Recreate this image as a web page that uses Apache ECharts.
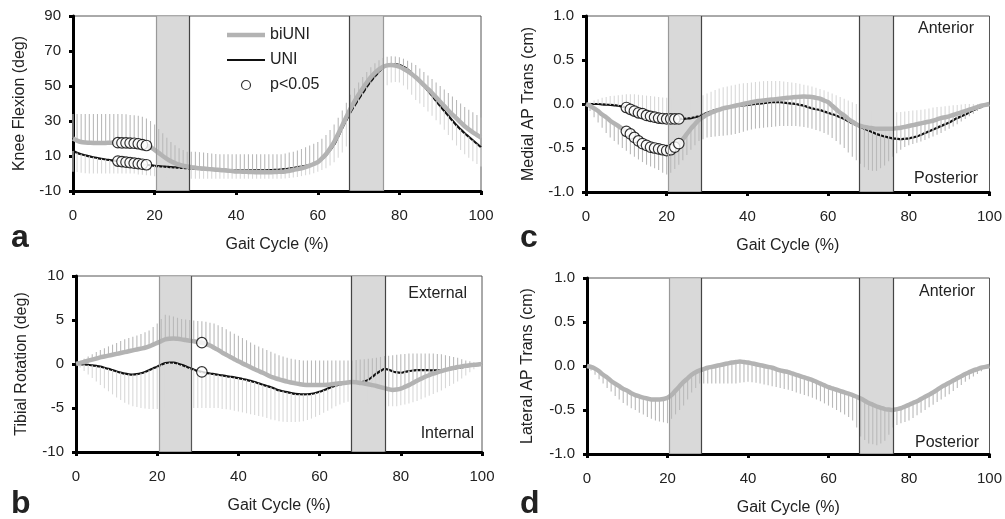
<!DOCTYPE html>
<html><head><meta charset="utf-8">
<script src="https://cdn.jsdelivr.net/npm/echarts@6/dist/echarts.min.js"></script>
<style>html,body{margin:0;padding:0;background:#fff}#c{width:1005px;height:519px}</style>
</head><body><div id="c"></div>
<script>
// Gait cycle sample points (%)
const gait = [0,1,2,3,4,5,6,7,8,9,10,11,12,13,14,15,16,17,18,19,20,21,22,23,24,25,26,27,28,29,30,31,32,33,34,35,36,37,38,39,40,41,42,43,44,45,46,47,48,49,50,51,52,53,54,55,56,57,58,59,60,61,62,63,64,65,66,67,68,69,70,71,72,73,74,75,76,77,78,79,80,81,82,83,84,85,86,87,88,89,90,91,92,93,94,95,96,97,98,99,100];

// a: Knee flexion (deg)
const kneeBi = [20,18.8,18,17.7,17.6,17.5,17.5,17.5,17.5,17.6, 17.6,17.6,17.5,17.5,17.4,17.3,17,16.5,16,15, 13.5,11.8,10,8.4,7,5.9,5,4.4,4,3.6, 3.3,3,2.8,2.6,2.4,2.2,2,1.8,1.6,1.4, 1.2,1.1,1,0.9,0.8,0.75,0.7,0.7,0.7,0.8, 0.9,1,1.2,1.6,2,2.5,3,3.7,4.5,5.4, 6.5,8.6,11,14.3,18,22.6,27.5,32.3,37,41.2, 45,48.6,52,55,57.5,59.5,61,61.8,62,61.7, 61,59.9,58.5,56.9,55,52.8,50.5,48.3,46,43.5, 41,38.5,36,33.7,31.5,29.2,27,25.2,23.5,22, 20.5];
const kneeUni = [12.8,11.8,11,10.4,9.8,9.3,8.8,8.4,8,7.7, 7.4,7.1,6.8,6.5,6.2,5.9,5.6,5.3,5,4.7, 4.4,4.2,4,3.8,3.6,3.45,3.3,3.15,3,2.85, 2.7,2.6,2.5,2.4,2.3,2.2,2.1,2.05,2,1.95, 1.9,1.85,1.8,1.8,1.8,1.8,1.8,1.85,1.9,2, 2.1,2.3,2.5,2.8,3.1,3.5,4,4.4,4.8,5.6, 6.5,8.3,10.5,13.3,16.5,21,26,30.5,35,38.8, 42.5,46,49.5,52.6,55.5,58.2,60.5,61.8,62.5,62.5, 62,61,59.5,57.4,55,52.6,50,47.3,44.5,41.5, 38.5,35.7,33,30.2,27.5,25.2,23,21,19,17, 15];
const kneeBiSD = [34,34,34,34,34,34,34,34,34,34, 34,34,34,33.8,33.5,33.3,33,32.4,31.5,30, 28,25.5,23,20.5,18,16.1,14.5,13.4,12.5,12.5, 12.5,12.2,12,11.7,11.5,11.2,11,11,11,11, 11,11,11,11,11,11,11,11,11,11, 11,11,11.5,12,12.5,13.2,14,15,16,17, 18,19.8,22,24.8,28,31.8,36,40.5,45,48.7, 52,55.2,58,60.7,63,64.7,66,66.7,67,66.9, 66.5,65.6,64.5,63.3,62,60,58,56,54,52, 50,48,46,44,42,40,38,36.4,35,33.5, 32];
const kneeUniSD = [1,0.8,0.5,0.2,0,0,0,0,0,0, 0,0,0,0,0,0,-0.5,-0.7,-1,-1.2, -1.5,-1.8,-2,-2.3,-2.5,-2.7,-2.8,-2.9,-3,-3, -3,-3,-3,-3,-3,-3,-3,-3,-3,-3, -3,-3,-3,-3,-3,-3,-3,-3,-3,-3, -3,-3,-2.8,-2.6,-2.3,-2,-1.5,-1,-0.5,0.2, 1,2,3,4.6,6.5,9,12,15.5,19,22.5, 26,29.5,33,36.5,40,44,48,50.5,52,52.3, 52,50.3,48,45,42,40,38,35.5,33,30.5, 28,25,22,19,16,13.5,11,9,7,5.5, 4];
const kneeSigX = [11,12,13,14,15,16,17,18];
const kneeYTicks = [-10,10,30,50,70,90];

// b: Tibial rotation (deg)
const tibBi = [0,0.12,0.25,0.38,0.5,0.62,0.75,0.85,0.95,1.05, 1.15,1.25,1.35,1.45,1.55,1.65,1.75,1.85,2,2.2, 2.4,2.6,2.8,2.88,2.9,2.86,2.8,2.72,2.65,2.58, 2.5,2.42,2.3,2.1,1.85,1.6,1.3,1.05,0.8,0.55, 0.3,0.07,-0.15,-0.38,-0.6,-0.8,-1,-1.22,-1.45,-1.6, -1.75,-1.88,-2,-2.1,-2.2,-2.28,-2.35,-2.38,-2.4,-2.4, -2.4,-2.38,-2.35,-2.3,-2.25,-2.2,-2.15,-2.1,-2.05,-2.08, -2.15,-2.22,-2.3,-2.4,-2.5,-2.62,-2.75,-2.87,-2.95,-2.9, -2.8,-2.6,-2.4,-2.15,-1.9,-1.68,-1.45,-1.27,-1.1,-0.95, -0.8,-0.67,-0.55,-0.45,-0.35,-0.27,-0.2,-0.15,-0.1,-0.05, 0];
const tibUni = [0,-0.02,-0.05,-0.1,-0.15,-0.22,-0.3,-0.42,-0.55,-0.7, -0.85,-0.98,-1.1,-1.17,-1.2,-1.15,-1.05,-0.9,-0.7,-0.5, -0.3,-0.08,0.1,0.17,0.15,0.05,-0.1,-0.27,-0.45,-0.63, -0.8,-0.9,-1,-1.08,-1.15,-1.22,-1.3,-1.38,-1.45,-1.52, -1.6,-1.7,-1.8,-1.92,-2.05,-2.2,-2.35,-2.5,-2.65,-2.82, -3,-3.1,-3.2,-3.3,-3.4,-3.43,-3.45,-3.44,-3.4,-3.3, -3.15,-2.98,-2.8,-2.62,-2.45,-2.32,-2.2,-2.1,-2,-2.05, -2.1,-2,-1.8,-1.45,-1.1,-0.8,-0.55,-0.65,-0.85,-0.95, -1,-0.9,-0.8,-0.75,-0.7,-0.7,-0.7,-0.71,-0.72,-0.71, -0.7,-0.65,-0.6,-0.52,-0.45,-0.38,-0.3,-0.2,-0.12,-0.05, 0];
const tibBiSD = [0,0.3,0.6,0.85,1.1,1.35,1.6,1.8,2,2.2, 2.4,2.6,2.8,2.95,3.1,3.25,3.4,3.6,3.8,4.2, 4.6,5.1,5.6,5.5,5.4,5.25,5.1,5.05,5,4.95, 4.9,4.85,4.8,4.7,4.6,4.4,4.2,3.95,3.7,3.45, 3.2,2.95,2.7,2.45,2.2,2,1.8,1.6,1.4,1.2, 1,0.85,0.7,0.6,0.5,0.45,0.4,0.4,0.4,0.4, 0.4,0.4,0.4,0.4,0.4,0.4,0.4,0.4,0.4,0.45, 0.5,0.55,0.6,0.65,0.7,0.8,0.9,0.95,1,1.05, 1.1,1.15,1.2,1.2,1.2,1.2,1.2,1.2,1.2,1.15, 1.1,1,0.9,0.8,0.7,0.55,0.4,0.3,0.2,0.1, 0];
const tibUniSD = [0,-0.4,-0.8,-1.2,-1.6,-2,-2.4,-2.75,-3.1,-3.45, -3.8,-4.1,-4.4,-4.6,-4.8,-4.9,-5,-5.05,-5.1,-5.1, -5.1,-5.05,-5,-4.95,-4.9,-4.95,-5,-5,-5,-5, -5,-5,-5,-5,-5,-5,-5.1,-5.15,-5.2,-5.3, -5.4,-5.5,-5.6,-5.7,-5.8,-5.9,-6,-6.15,-6.3,-6.4, -6.5,-6.55,-6.6,-6.6,-6.6,-6.55,-6.5,-6.35,-6.2,-6, -5.8,-5.55,-5.3,-5.05,-4.8,-4.6,-4.4,-4.3,-4.2,-4.25, -4.3,-4.4,-4.5,-4.6,-4.7,-4.75,-4.8,-4.8,-4.8,-4.8, -4.7,-4.6,-4.5,-4.35,-4.2,-4,-3.8,-3.6,-3.4,-3.2, -3,-2.75,-2.5,-2.25,-2,-1.65,-1.3,-0.95,-0.6,-0.3, 0];
const tibSigX = [31];

// c: Medial AP translation (cm)
const medBi = [0,-0.02,-0.05,-0.08,-0.12,-0.15,-0.19,-0.22,-0.25,-0.28, -0.31,-0.34,-0.38,-0.42,-0.45,-0.47,-0.49,-0.5,-0.51,-0.52, -0.53,-0.52,-0.49,-0.45,-0.4,-0.34,-0.28,-0.23,-0.18,-0.15, -0.12,-0.1,-0.08,-0.065,-0.05,-0.04,-0.03,-0.02,-0.01,0, 0.01,0.02,0.03,0.035,0.04,0.045,0.05,0.055,0.06,0.065, 0.07,0.075,0.08,0.083,0.085,0.083,0.08,0.07,0.06,0.04, 0.02,-0.02,-0.06,-0.1,-0.13,-0.17,-0.2,-0.23,-0.25,-0.26, -0.27,-0.275,-0.28,-0.28,-0.28,-0.28,-0.28,-0.275,-0.27,-0.26, -0.25,-0.24,-0.23,-0.22,-0.21,-0.2,-0.19,-0.175,-0.16,-0.15, -0.14,-0.125,-0.11,-0.095,-0.08,-0.065,-0.05,-0.035,-0.02,-0.01, 0];
const medUni = [0,0,0,0,-0.005,-0.008,-0.01,-0.015,-0.02,-0.03, -0.04,-0.06,-0.08,-0.1,-0.11,-0.13,-0.14,-0.15,-0.16,-0.165, -0.17,-0.17,-0.17,-0.17,-0.17,-0.165,-0.16,-0.15,-0.14,-0.12, -0.1,-0.085,-0.07,-0.06,-0.05,-0.04,-0.03,-0.025,-0.02,-0.015, -0.01,-0.005,0,0.005,0.01,0.015,0.02,0.02,0.02,0.015, 0.01,0.005,0,-0.01,-0.02,-0.035,-0.05,-0.06,-0.07,-0.085, -0.1,-0.115,-0.13,-0.15,-0.17,-0.195,-0.22,-0.24,-0.26,-0.28, -0.3,-0.32,-0.34,-0.355,-0.37,-0.38,-0.39,-0.395,-0.4,-0.395, -0.39,-0.38,-0.37,-0.35,-0.33,-0.31,-0.29,-0.27,-0.25,-0.23, -0.21,-0.185,-0.16,-0.14,-0.12,-0.095,-0.07,-0.05,-0.03,-0.015, 0];
const medBiSD = [0,-0.08,-0.15,-0.21,-0.27,-0.33,-0.38,-0.42,-0.46,-0.5, -0.53,-0.57,-0.6,-0.63,-0.66,-0.69,-0.71,-0.73,-0.75,-0.78, -0.8,-0.78,-0.74,-0.69,-0.64,-0.58,-0.52,-0.47,-0.42,-0.4, -0.38,-0.375,-0.37,-0.365,-0.36,-0.355,-0.35,-0.34,-0.33,-0.315, -0.3,-0.29,-0.28,-0.275,-0.27,-0.265,-0.26,-0.255,-0.25,-0.25, -0.25,-0.25,-0.25,-0.255,-0.26,-0.27,-0.28,-0.295,-0.31,-0.33, -0.35,-0.385,-0.42,-0.46,-0.5,-0.55,-0.6,-0.64,-0.68,-0.72, -0.75,-0.76,-0.76,-0.73,-0.7,-0.65,-0.6,-0.56,-0.52,-0.49, -0.47,-0.455,-0.44,-0.425,-0.41,-0.39,-0.37,-0.35,-0.33,-0.305, -0.28,-0.255,-0.23,-0.2,-0.17,-0.14,-0.11,-0.08,-0.05,-0.025, 0];
const medUniSD = [0,0.02,0.04,0.055,0.07,0.08,0.09,0.095,0.1,0.105, 0.11,0.11,0.11,0.105,0.1,0.095,0.09,0.085,0.08,0.075, 0.07,0.06,0.05,0.045,0.04,0.045,0.05,0.065,0.08,0.1, 0.12,0.14,0.16,0.175,0.19,0.2,0.21,0.22,0.23,0.235, 0.24,0.245,0.25,0.255,0.26,0.26,0.26,0.26,0.26,0.255, 0.25,0.245,0.24,0.23,0.22,0.21,0.2,0.185,0.17,0.155, 0.14,0.12,0.1,0.08,0.06,0.04,0.02,0,-0.02,-0.04, -0.06,-0.075,-0.09,-0.095,-0.1,-0.1,-0.1,-0.095,-0.09,-0.085, -0.08,-0.075,-0.07,-0.065,-0.06,-0.05,-0.04,-0.035,-0.03,-0.025, -0.02,-0.015,-0.01,-0.005,0,0,0,0,0,0, 0];
const medSigX = [10,11,12,13,14,15,16,17,18,19,20,21,22,23];

// d: Lateral AP translation (cm)
const latBi = [0,-0.01,-0.03,-0.06,-0.1,-0.13,-0.17,-0.2,-0.23,-0.26, -0.28,-0.31,-0.33,-0.345,-0.36,-0.37,-0.38,-0.38,-0.38,-0.375, -0.36,-0.33,-0.28,-0.23,-0.18,-0.14,-0.1,-0.07,-0.05,-0.035, -0.02,-0.01,0,0.01,0.02,0.03,0.04,0.045,0.05,0.045, 0.04,0.03,0.02,0.01,0,-0.01,-0.02,-0.035,-0.05,-0.06, -0.07,-0.085,-0.1,-0.115,-0.13,-0.145,-0.16,-0.18,-0.2,-0.22, -0.24,-0.255,-0.27,-0.285,-0.3,-0.315,-0.33,-0.35,-0.37,-0.395, -0.42,-0.44,-0.46,-0.475,-0.49,-0.495,-0.5,-0.49,-0.48,-0.46, -0.44,-0.42,-0.4,-0.375,-0.35,-0.325,-0.3,-0.27,-0.24,-0.215, -0.19,-0.165,-0.14,-0.115,-0.09,-0.07,-0.05,-0.035,-0.02,-0.01, 0];
const latBiSD = [0,-0.05,-0.1,-0.15,-0.2,-0.25,-0.29,-0.34,-0.38,-0.42, -0.45,-0.48,-0.5,-0.53,-0.55,-0.58,-0.6,-0.62,-0.63,-0.64, -0.65,-0.6,-0.55,-0.5,-0.45,-0.38,-0.3,-0.25,-0.2,-0.2, -0.2,-0.2,-0.2,-0.2,-0.2,-0.2,-0.2,-0.2,-0.19,-0.185, -0.18,-0.185,-0.19,-0.2,-0.21,-0.22,-0.23,-0.24,-0.25,-0.26, -0.27,-0.285,-0.3,-0.315,-0.33,-0.345,-0.36,-0.38,-0.4,-0.425, -0.45,-0.475,-0.5,-0.525,-0.55,-0.58,-0.62,-0.7,-0.8,-0.84, -0.88,-0.89,-0.9,-0.88,-0.85,-0.78,-0.7,-0.67,-0.65,-0.635, -0.62,-0.59,-0.56,-0.53,-0.5,-0.47,-0.44,-0.41,-0.38,-0.35, -0.32,-0.285,-0.25,-0.215,-0.18,-0.15,-0.12,-0.09,-0.06,-0.03, 0];

// Transition bands (% gait cycle)
const bands = [[20.5, 28.5], [67.7, 76.1]];

const FONT = 'Liberation Sans, Arial, Helvetica, sans-serif';
const GRAY = '#b3b3b3', BLACK = '#111';
const BAR_DARK = '#bababa', BAR_LIGHT = '#d9d9d9';

const grids = [
  {left: 73, top: 16, width: 408, height: 175},   // a
  {left: 76, top: 276, width: 406, height: 176},  // b
  {left: 586, top: 16, width: 404, height: 176},  // c
  {left: 587, top: 278, width: 403, height: 176}  // d
].map(g => Object.assign({show: true, borderColor: '#555', borderWidth: 1, backgroundColor: 'transparent'}, g));

function xAxis(i) {
  return {
    gridIndex: i, type: 'value', min: 0, max: 100, interval: 20,
    axisLine: {onZero: false, lineStyle: {color: '#000', width: 3}},
    axisTick: {length: 4, lineStyle: {color: '#000', width: 3}},
    axisLabel: {fontSize: 15, color: '#222', margin: 17, fontFamily: FONT},
    splitLine: {show: false},
    name: 'Gait Cycle (%)', nameLocation: 'middle', nameGap: 46,
    nameTextStyle: {fontSize: 16, color: '#222', fontFamily: FONT}
  };
}
function yAxis(i, name, min, max, interval, gap, fmt, custom) {
  const ax = {
    gridIndex: i, type: 'value', min: min, max: max, interval: interval,
    axisLine: {onZero: false, lineStyle: {color: '#000', width: 3}},
    axisTick: {length: 4, lineStyle: {color: '#000', width: 3}},
    axisLabel: {fontSize: 15, color: '#222', margin: 12, fontFamily: FONT, formatter: fmt},
    splitLine: {show: false},
    name: name, nameLocation: 'middle', nameGap: gap,
    nameTextStyle: {fontSize: 16, color: '#222', fontFamily: FONT}
  };
  if (custom) {
    ax.axisLabel.customValues = custom;
    ax.axisTick.customValues = custom;
  }
  return ax;
}
const f1 = v => v.toFixed(1);
const f0 = v => String(v);

function lineSeries(i, name, arr, color, width, z) {
  return {
    type: 'line', name: name, xAxisIndex: i, yAxisIndex: i,
    data: gait.map((x, k) => [x, arr[k]]),
    smooth: 0.3, showSymbol: false, symbol: 'none', z: z,
    lineStyle: {color: color, width: width}, itemStyle: {color: color},
    emphasis: {disabled: true}, silent: true
  };
}
function errSeries(i, mean, end, color) {
  return {
    type: 'custom', xAxisIndex: i, yAxisIndex: i, z: 2, silent: true,
    data: gait.map((x, k) => [x, mean[k], end[k]]),
    encode: {x: 0, y: [1, 2]},
    renderItem: function (params, api) {
      const p0 = api.coord([api.value(0), api.value(1)]);
      const p1 = api.coord([api.value(0), api.value(2)]);
      return {type: 'line', shape: {x1: p0[0], y1: p0[1], x2: p1[0], y2: p1[1]},
        style: {stroke: color, lineWidth: 1.1}};
    }
  };
}
function sigSeries(i, xs, arr) {
  return {
    type: 'scatter', name: 'p<0.05', xAxisIndex: i, yAxisIndex: i, z: 4,
    data: xs.map(x => [x, arr[gait.indexOf(x)]]),
    symbol: 'circle', symbolSize: 10.5, silent: true,
    itemStyle: {color: '#fff', borderColor: '#000', borderWidth: 1.2}
  };
}
function bandSeries(i, edgeColors) {
  return {
    type: 'line', xAxisIndex: i, yAxisIndex: i, data: [], z: 5, silent: true,
    markArea: {
      silent: true,
      itemStyle: {color: '#cfcfcf', opacity: 0.8},
      data: bands.map(b => [{xAxis: b[0]}, {xAxis: b[1]}])
    },
    markLine: {
      silent: true, symbol: ['none', 'none'], label: {show: false},
      data: [
        {xAxis: bands[0][0], lineStyle: {color: edgeColors[0], width: 1.2, type: 'solid'}},
        {xAxis: bands[0][1], lineStyle: {color: edgeColors[1], width: 1.2, type: 'solid'}},
        {xAxis: bands[1][0], lineStyle: {color: edgeColors[2], width: 1.2, type: 'solid'}},
        {xAxis: bands[1][1], lineStyle: {color: edgeColors[3], width: 1.2, type: 'solid'}}
      ]
    }
  };
}

const series = [
  // a
  lineSeries(0, 'UNI', kneeUni, BLACK, 2.2, 1),
  errSeries(0, kneeBi, kneeBiSD, BAR_DARK),
  errSeries(0, kneeUni, kneeUniSD, BAR_LIGHT),
  lineSeries(0, 'biUNI', kneeBi, GRAY, 4.5, 3),
  sigSeries(0, kneeSigX, kneeBi),
  sigSeries(0, kneeSigX, kneeUni),
  bandSeries(0, ['#999', '#444', '#444', '#999']),
  // b
  lineSeries(1, 'UNI', tibUni, BLACK, 2.2, 1),
  errSeries(1, tibBi, tibBiSD, BAR_DARK),
  errSeries(1, tibUni, tibUniSD, BAR_LIGHT),
  lineSeries(1, 'biUNI', tibBi, GRAY, 4.5, 3),
  sigSeries(1, tibSigX, tibBi),
  sigSeries(1, tibSigX, tibUni),
  bandSeries(1, ['#999', '#555', '#444', '#444']),
  // c
  lineSeries(2, 'UNI', medUni, BLACK, 2.2, 1),
  errSeries(2, medBi, medBiSD, BAR_DARK),
  errSeries(2, medUni, medUniSD, BAR_LIGHT),
  lineSeries(2, 'biUNI', medBi, GRAY, 4.5, 3),
  sigSeries(2, medSigX, medUni),
  sigSeries(2, medSigX, medBi),
  bandSeries(2, ['#999', '#444', '#444', '#444']),
  // d
  errSeries(3, latBi, latBiSD, BAR_DARK),
  lineSeries(3, 'biUNI', latBi, GRAY, 4.5, 3),
  bandSeries(3, ['#999', '#444', '#444', '#444'])
];

function txt(x, y, s, align, size, bold) {
  return {type: 'text', x: x, y: y, silent: true,
    style: {text: s, fill: '#222', font: (bold ? 'bold ' : '') + size + 'px ' + FONT,
      align: align, textAlign: align, verticalAlign: 'middle', textVerticalAlign: 'middle'}};
}

const option = {
  animation: false,
  backgroundColor: '#fff',
  textStyle: {fontFamily: FONT},
  grid: grids,
  xAxis: [xAxis(0), xAxis(1), xAxis(2), xAxis(3)],
  yAxis: [
    yAxis(0, 'Knee Flexion (deg)', -10, 90, 10, 45, f0, kneeYTicks),
    yAxis(1, 'Tibial Rotation (deg)', -10, 10, 5, 46, f0),
    yAxis(2, 'Medial AP Trans (cm)', -1, 1, 0.5, 49, f1),
    yAxis(3, 'Lateral AP Trans (cm)', -1, 1, 0.5, 51, f1)
  ],
  legend: {
    orient: 'vertical', left: 222, top: 22, itemWidth: 38, itemHeight: 9, itemGap: 9,
    selectedMode: false,
    textStyle: {fontSize: 16, color: '#222', fontFamily: FONT},
    data: [
      {name: 'biUNI', icon: 'path://M0,0H40V4.5H0Z', itemStyle: {color: GRAY}},
      {name: 'UNI', icon: 'path://M0,0H40V2.2H0Z', itemStyle: {color: BLACK}},
      {name: 'p<0.05', icon: 'circle', itemStyle: {color: '#fff', borderColor: '#000', borderWidth: 1.2}}
    ]
  },
  graphic: [
    txt(11, 238, 'a', 'left', 32, true),
    txt(11, 504, 'b', 'left', 32, true),
    txt(520, 238, 'c', 'left', 32, true),
    txt(520, 504, 'd', 'left', 32, true),
    txt(974, 29, 'Anterior', 'right', 16),
    txt(978, 179, 'Posterior', 'right', 16),
    txt(467, 294, 'External', 'right', 16),
    txt(474, 434, 'Internal', 'right', 16),
    txt(975, 292, 'Anterior', 'right', 16),
    txt(979, 443, 'Posterior', 'right', 16)
  ],
  series: series
};

const chart = echarts.init(document.getElementById('c'), null, {renderer: 'canvas'});
chart.setOption(option);
</script>
</body></html>
